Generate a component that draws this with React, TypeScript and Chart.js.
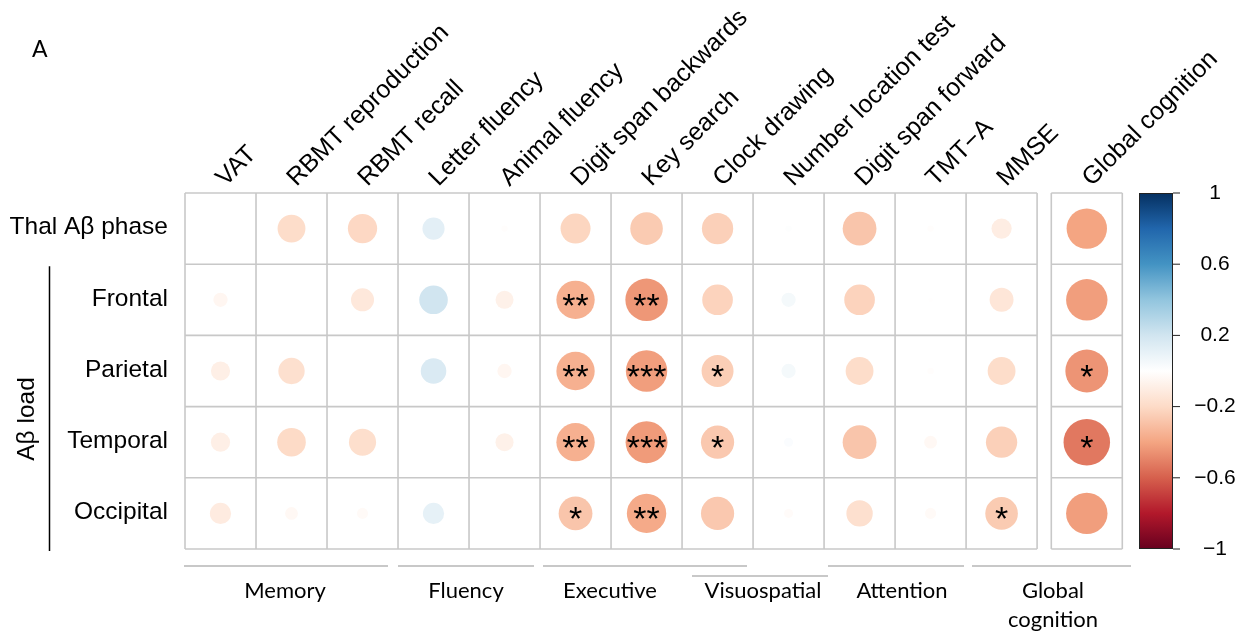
import React, { useEffect, useRef } from "react";
import { Chart, registerables } from "chart.js";
Chart.register(...registerables);

// ---------- data ----------
const testLabels = [
  "VAT",
  "RBMT reproduction",
  "RBMT recall",
  "Letter fluency",
  "Animal fluency",
  "Digit span backwards",
  "Key search",
  "Clock drawing",
  "Number location test",
  "Digit span forward",
  "TMT\u2212A",
  "MMSE",
  "Global cognition",
];
const rowLabels = ["Thal A\u03b2 phase", "Frontal", "Parietal", "Temporal", "Occipital"];

const thalValues = [0, -0.19, -0.21, 0.12, -0.01, -0.22, -0.26, -0.24, 0.01, -0.28, -0.01, -0.1, -0.4];
const frontalValues = [-0.05, 0, -0.13, 0.2, -0.08, -0.36, -0.44, -0.23, 0.05, -0.23, -0.005, -0.14, -0.42];
const parietalValues = [-0.09, -0.17, 0, 0.16, -0.05, -0.36, -0.42, -0.25, 0.05, -0.19, -0.01, -0.19, -0.45];
const temporalValues = [-0.09, -0.2, -0.18, 0, -0.08, -0.36, -0.43, -0.27, 0.02, -0.28, -0.04, -0.24, -0.53];
const occipitalValues = [-0.11, -0.04, -0.03, 0.11, 0, -0.28, -0.38, -0.27, -0.02, -0.17, -0.03, -0.26, -0.42];

const thalSig = ["", "", "", "", "", "", "", "", "", "", "", "", ""];
const frontalSig = ["", "", "", "", "", "**", "**", "", "", "", "", "", ""];
const parietalSig = ["", "", "", "", "", "**", "***", "*", "", "", "", "", "*"];
const temporalSig = ["", "", "", "", "", "**", "***", "*", "", "", "", "", "*"];
const occipitalSig = ["", "", "", "", "", "*", "**", "", "", "", "", "*", ""];

const colorbarTicks = [1, 0.6, 0.2, -0.2, -0.6, -1];
const colorbarTickLabels = ["1", "0.6", "0.2", "\u22120.2", "\u22120.6", "\u22121"];

const domainLabels = ["Memory", "Fluency", "Executive", "Visuospatial", "Attention", "Global\ncognition"];
const panelLabel = "A";
const groupLabel = "A\u03b2 load";

// ---------- layout (pixels, styles) ----------
const W = 1239;
const H = 636;
const GLOBAL_GAP = 0.2;
const domainLayout = [
  { x1: 184, x2: 388, ly: 566, tx: 285 },
  { x1: 398, x2: 534, ly: 566, tx: 466 },
  { x1: 543, x2: 747, ly: 566, tx: 610 },
  { x1: 692, x2: 828, ly: 576, tx: 763 },
  { x1: 828, x2: 964, ly: 566, tx: 902 },
  { x1: 972, x2: 1131, ly: 566, tx: 1053 },
];
const PALETTE = [
  "#67001F", "#B2182B", "#D6604D", "#F4A582", "#FDDBC7", "#FFFFFF",
  "#D1E5F0", "#92C5DE", "#4393C3", "#2166AC", "#053061",
];
const TOP_FONT = "25px 'Liberation Sans', Arial, sans-serif";
const ROW_FONT = "24.5px 'Liberation Sans', Arial, sans-serif";
const CB_FONT = "21px 'Liberation Sans', Arial, sans-serif";
const STAR_FONT = "34px 'Liberation Sans', Arial, sans-serif";
const NOTE_FONT = "22px Lato, 'Open Sans', sans-serif";
const GRID_COLOR = "#C8C8C8";

function hexToRgb(h: string) {
  const n = parseInt(h.slice(1), 16);
  return [(n >> 16) & 255, (n >> 8) & 255, n & 255];
}
function colorFor(v: number) {
  const t = Math.max(0, Math.min(1, (v + 1) / 2)) * (PALETTE.length - 1);
  const i = Math.min(PALETTE.length - 2, Math.floor(t));
  const f = t - i;
  const a = hexToRgb(PALETTE[i]);
  const b = hexToRgb(PALETTE[i + 1]);
  const c = a.map((av, k) => Math.round(av + (b[k] - av) * f));
  return `rgb(${c[0]},${c[1]},${c[2]})`;
}
const colX = (i: number) => (i < 12 ? i : 12 + GLOBAL_GAP);

const allValues = [thalValues, frontalValues, parietalValues, temporalValues, occipitalValues];
const allSig = [thalSig, frontalSig, parietalSig, temporalSig, occipitalSig];

const points: { x: number; y: number; v: number; s: string }[] = [];
allValues.forEach((row, r) =>
  row.forEach((v, c) => points.push({ x: colX(c), y: r, v, s: allSig[r][c] }))
);

const radiusFor = (ctx: any) => {
  const raw = ctx.raw;
  if (!raw) return 0;
  const xs = ctx.chart.scales.x;
  const cell = xs.getPixelForValue(1) - xs.getPixelForValue(0);
  return 0.45 * Math.sqrt(Math.abs(raw.v)) * cell;
};

const decorPlugin = {
  id: "decor",
  beforeDatasetsDraw(chart: any) {
    const { ctx, scales } = chart;
    const x = scales.x;
    const y = scales.y;
    ctx.save();
    ctx.strokeStyle = GRID_COLOR;
    ctx.lineWidth = 1.6;
    const top = y.getPixelForValue(-0.5);
    const bottom = y.getPixelForValue(4.5);
    const drawGrid = (c0: number, c1: number) => {
      const xl = x.getPixelForValue(c0);
      const xr = x.getPixelForValue(c1);
      for (let k = c0; k <= c1 + 1e-6; k += 1) {
        const px = x.getPixelForValue(k);
        ctx.beginPath();
        ctx.moveTo(px, top);
        ctx.lineTo(px, bottom);
        ctx.stroke();
      }
      for (let r = 0; r <= rowLabels.length; r++) {
        const py = y.getPixelForValue(r - 0.5);
        ctx.beginPath();
        ctx.moveTo(xl, py);
        ctx.lineTo(xr, py);
        ctx.stroke();
      }
    };
    drawGrid(-0.5, 11.5);
    drawGrid(11.5 + GLOBAL_GAP, 12.5 + GLOBAL_GAP);
    ctx.restore();
  },
  afterDatasetsDraw(chart: any) {
    const { ctx, scales, chartArea } = chart;
    const x = scales.x;
    const y = scales.y;
    ctx.save();
    ctx.fillStyle = "#000";
    // stars
    ctx.font = STAR_FONT;
    ctx.textAlign = "center";
    ctx.textBaseline = "alphabetic";
    points.forEach((p) => {
      if (!p.s) return;
      const m = ctx.measureText(p.s);
      const cx = x.getPixelForValue(p.x);
      const cy = y.getPixelForValue(p.y);
      const asc = m.actualBoundingBoxAscent;
      const desc = m.actualBoundingBoxDescent;
      const base = cy - (desc - asc) / 2;
      ctx.fillText(p.s, cx, base);
    });

    // top labels
    ctx.font = TOP_FONT;
    ctx.textAlign = "left";
    ctx.textBaseline = "alphabetic";
    testLabels.forEach((lab, i) => {
      const px = x.getPixelForValue(colX(i)) + 5;
      const py = chartArea.top - 6;
      ctx.save();
      ctx.translate(px, py);
      ctx.rotate(-Math.PI / 4);
      ctx.fillText(lab, 0, 0);
      ctx.restore();
    });

    // row labels
    ctx.font = ROW_FONT;
    ctx.textAlign = "right";
    ctx.textBaseline = "middle";
    rowLabels.forEach((lab, r) => {
      ctx.fillText(lab, chartArea.left - 17, y.getPixelForValue(r) - 1);
    });

    // group label + line
    ctx.save();
    ctx.translate(27, 419);
    ctx.rotate(-Math.PI / 2);
    ctx.textAlign = "center";
    ctx.textBaseline = "middle";
    ctx.fillText(groupLabel, 0, 0);
    ctx.restore();
    ctx.strokeStyle = "#000";
    ctx.lineWidth = 1.5;
    ctx.beginPath();
    ctx.moveTo(49.5, y.getPixelForValue(0.5) + 2);
    ctx.lineTo(49.5, y.getPixelForValue(4.5) + 2);
    ctx.stroke();

    // colorbar
    const cbL = chartArea.right + 16.7;
    const cbR = cbL + 34;
    const cbT = chartArea.top;
    const cbB = chartArea.bottom;
    const grad = ctx.createLinearGradient(0, cbT, 0, cbB);
    PALETTE.slice().reverse().forEach((c, i) => grad.addColorStop(i / (PALETTE.length - 1), c));
    ctx.fillStyle = grad;
    ctx.fillRect(cbL, cbT, cbR - cbL, cbB - cbT);
    ctx.strokeStyle = "#222";
    ctx.lineWidth = 1;
    ctx.strokeRect(cbL + 0.5, cbT + 0.5, cbR - cbL - 1, cbB - cbT - 1);
    ctx.fillStyle = "#000";
    ctx.font = CB_FONT;
    ctx.textAlign = "center";
    ctx.textBaseline = "middle";
    colorbarTicks.forEach((t, i) => {
      const py = cbT + ((1 - t) / 2) * (cbB - cbT);
      ctx.beginPath();
      ctx.moveTo(cbR, py);
      ctx.lineTo(cbR + 7, py);
      ctx.stroke();
      ctx.fillText(colorbarTickLabels[i], 1215, py);
    });

    // panel label
    ctx.font = "23px Lato, 'Open Sans', sans-serif";
    ctx.textAlign = "left";
    ctx.textBaseline = "alphabetic";
    ctx.fillText(panelLabel, 32, 57);

    // domain annotations
    ctx.strokeStyle = GRID_COLOR;
    ctx.lineWidth = 2;
    ctx.font = NOTE_FONT;
    ctx.textAlign = "center";
    ctx.textBaseline = "middle";
    domainLabels.forEach((lab, i) => {
      const d = domainLayout[i];
      ctx.beginPath();
      ctx.moveTo(d.x1, d.ly);
      ctx.lineTo(d.x2, d.ly);
      ctx.stroke();
      lab.split("\n").forEach((line, j) => {
        ctx.fillText(line, d.tx, 591 + j * 29);
      });
    });
    ctx.restore();
  },
};

export default function App() {
  const ref = useRef<HTMLCanvasElement>(null);
  useEffect(() => {
    if (!ref.current) return;
    const chart = new Chart(ref.current, {
      type: "scatter",
      data: {
        datasets: [
          {
            data: points as any,
            pointRadius: radiusFor,
            pointHoverRadius: radiusFor,
            backgroundColor: (ctx: any) => (ctx.raw ? colorFor(ctx.raw.v) : "#fff"),
            borderWidth: 0,
            pointBorderWidth: 0,
          } as any,
        ],
      },
      options: {
        responsive: false,
        animation: false,
        events: [],
        layout: { padding: { left: 185, top: 193, right: W - 1122.3, bottom: H - 549 } },
        plugins: { legend: { display: false }, tooltip: { enabled: false } },
        scales: {
          x: { type: "linear", min: -0.5, max: 12.5 + GLOBAL_GAP, display: false },
          y: { type: "linear", min: -0.5, max: 4.5, reverse: true, display: false },
        },
      },
      plugins: [decorPlugin],
    });
    return () => chart.destroy();
  }, []);
  return (
    <div style={{ position: "absolute", left: 0, top: 0, width: W, height: H, background: "#fff" }}>
      <canvas ref={ref} width={W} height={H} style={{ display: "block" }} />
    </div>
  );
}
